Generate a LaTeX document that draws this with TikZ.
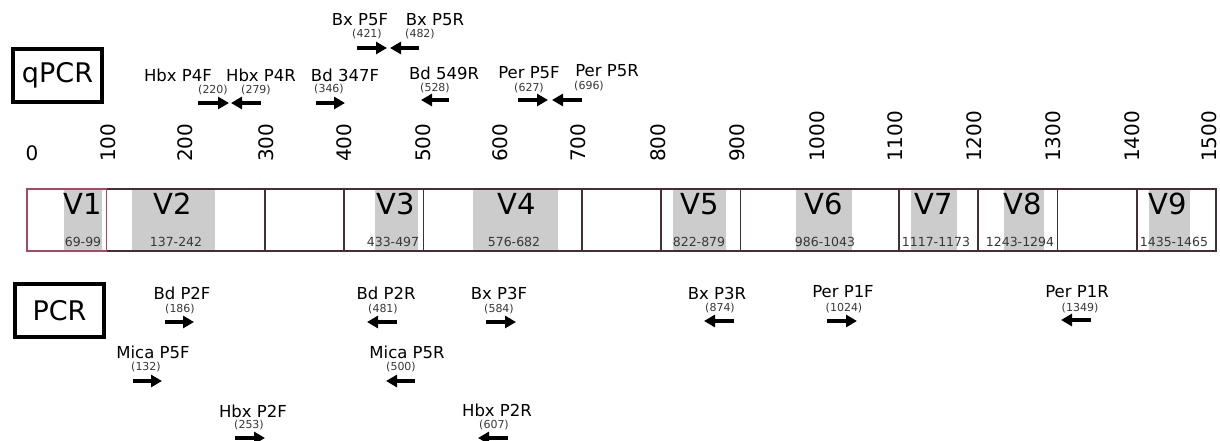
\documentclass[tikz,border=0pt]{standalone}
\usepackage{fontspec}
\setmainfont{DejaVu Sans}
\usetikzlibrary{arrows.meta}
\definecolor{barline}{RGB}{70,45,55}
\definecolor{vline}{RGB}{168,72,98}
\definecolor{vgray}{RGB}{204,204,204}
\definecolor{numgray}{RGB}{55,55,55}
\tikzset{
 primer/.style={font=\fontsize{16.5}{18}\selectfont, inner sep=0pt, yshift=1pt},
 posnum/.style={font=\fontsize{11}{12}\selectfont, text=numgray, inner sep=0pt, yshift=-1pt},
 parrow/.style={line width=4.5pt, -{Triangle[length=11pt,width=12pt]}},
 ticklab/.style={font=\fontsize{20}{22}\selectfont, rotate=90, anchor=west, inner sep=0pt},
 vlab/.style={font=\fontsize{29}{32}\selectfont, inner sep=0pt},
 rng/.style={font=\fontsize{12.5}{14}\selectfont, text=numgray, inner sep=0pt},
 titlebox/.style={draw, line width=4pt, minimum width=89pt, minimum height=53pt, inner sep=0pt, font=\fontsize{27}{30}\selectfont},
 segline/.style={draw=barline, line width=1.5pt},
}
\begin{document}
\begin{tikzpicture}[x=1pt,y=-1pt]
\useasboundingbox (0,0) rectangle (1220,441);
% title boxes
\node[titlebox] (qpcr) at (57.5,75.5) {qPCR};
\node[titlebox] (pcr) at (59.5,310.5) {PCR};
% scale labels
\node[font=\fontsize{20}{22}\selectfont, inner sep=0pt] (t0) at (32,153) {0};
\foreach \p/\x in {100/108,200/185,300/266,400/344,500/423,600/500,700/578,800/658,900/737,1000/817,1100/895,1200/974,1300/1053,1400/1132,1500/1209}{
  \node[ticklab] (t\p) at (\x,162) {\p};
}
% grey variable regions
\foreach \a/\b in {64/102,132/215,375/418,473/558,673/726,796/852,911/957,1004/1044,1149/1190}{
  \fill[vgray] (\a,189.5) rectangle (\b,250.5);
}
% bar outline and dividers
\draw[segline] (27,189) rectangle (1216,251);
\foreach \p in {300,400,500,700,800,900,1100,1200,1300,1400}{
  \draw[segline] ({27+0.7927*\p},189) -- ({27+0.7927*\p},251);
}
\draw[draw=vline, line width=1.5pt] (27,189) rectangle (106.3,251);
% region labels
\foreach \n/\x/\r/\rx in {1/83/69-99/83,2/173/137-242/176,3/396/433-497/393,4/517/576-682/514,5/700/822-879/699,6/824/986-1043/825,7/934/1117-1173/936,8/1023/1243-1294/1020,9/1168/1435-1465/1174}{
  \node[vlab] (v\n) at (\x,204) {V\n};
  \node[rng] (r\n) at (\rx,241.5) {\r};
}
% qPCR primers
\node[primer] (bxp5f) at (360,21) {Bx P5F};
\node[posnum] (bxp5fn) at (367,33) {(421)};
\draw[parrow] (357,48) -- (387,48);
\node[primer] (bxp5r) at (435,21) {Bx P5R};
\node[posnum] (bxp5rn) at (420,33) {(482)};
\draw[parrow] (419,48) -- (390,48);
\node[primer] (hbxp4f) at (178,76) {Hbx P4F};
\node[posnum] (hbxp4fn) at (213,89) {(220)};
\draw[parrow] (198,103) -- (229,103);
\node[primer] (hbxp4r) at (261,76) {Hbx P4R};
\node[posnum] (hbxp4rn) at (256,89) {(279)};
\draw[parrow] (261,103) -- (231,103);
\node[primer] (bd347f) at (345,76) {Bd 347F};
\node[posnum] (bd347fn) at (329,88) {(346)};
\draw[parrow] (316,103) -- (345,103);
\node[primer] (bd549r) at (444,74) {Bd 549R};
\node[posnum] (bd549rn) at (435,87) {(528)};
\draw[parrow] (449,100) -- (421,100);
\node[primer] (perp5f) at (529,74) {Per P5F};
\node[posnum] (perp5fn) at (529,87) {(627)};
\draw[parrow] (518,100) -- (548,100);
\node[primer] (perp5r) at (607,72) {Per P5R};
\node[posnum] (perp5rn) at (589,85) {(696)};
\draw[parrow] (582,100) -- (552,100);
% PCR primers
\node[primer] (bdp2f) at (182,294) {Bd P2F};
\node[posnum] (bdp2fn) at (180,308) {(186)};
\draw[parrow] (165,322) -- (194,322);
\node[primer] (micap5f) at (153,353) {Mica P5F};
\node[posnum] (micap5fn) at (146,366) {(132)};
\draw[parrow] (133,381) -- (162,381);
\node[primer] (hbxp2f) at (253,412) {Hbx P2F};
\node[posnum] (hbxp2fn) at (249,424) {(253)};
\draw[parrow] (235,438) -- (265,438);
\node[primer] (bdp2r) at (386,294) {Bd P2R};
\node[posnum] (bdp2rn) at (383,308) {(481)};
\draw[parrow] (397,322) -- (367,322);
\node[primer] (micap5r) at (407,353) {Mica P5R};
\node[posnum] (micap5rn) at (401,366) {(500)};
\draw[parrow] (415,381) -- (386,381);
\node[primer] (hbxp2r) at (497,411) {Hbx P2R};
\node[posnum] (hbxp2rn) at (494,424) {(607)};
\draw[parrow] (508,438) -- (478,438);
\node[primer] (bxp3f) at (499,294) {Bx P3F};
\node[posnum] (bxp3fn) at (499,308) {(584)};
\draw[parrow] (486,322) -- (516,322);
\node[primer] (bxp3r) at (717,294) {Bx P3R};
\node[posnum] (bxp3rn) at (720,307) {(874)};
\draw[parrow] (734,321) -- (704,321);
\node[primer] (perp1f) at (843,293) {Per P1F};
\node[posnum] (perp1fn) at (844,307) {(1024)};
\draw[parrow] (827,321) -- (857,321);
\node[primer] (perp1r) at (1077,293) {Per P1R};
\node[posnum] (perp1rn) at (1080,307) {(1349)};
\draw[parrow] (1091,320) -- (1061,320);
\end{tikzpicture}
\end{document}
